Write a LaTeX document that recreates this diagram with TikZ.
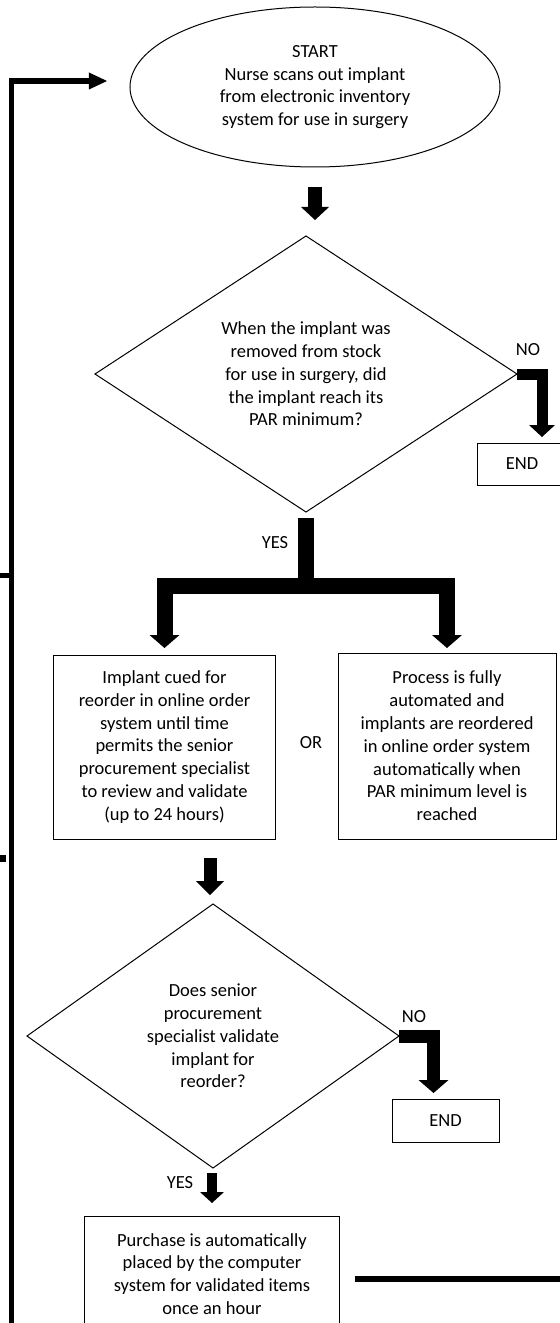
\documentclass[tikz,border=0pt]{standalone}
\usepackage{fontspec}
\setmainfont{Carlito}
\usetikzlibrary{shapes.geometric,arrows.meta,calc}
\tikzset{
  box/.style={draw, line width=1bp, rectangle, align=center, inner sep=0pt, outer sep=0pt},
  dec/.style={draw, line width=1bp, diamond, align=center, inner sep=0pt, outer sep=0pt},
  term/.style={draw, line width=1bp, ellipse, align=center, inner sep=0pt, outer sep=0pt},
  txt/.style={align=center, inner sep=0pt, outer sep=0pt},
  conn/.style={line width=5.5bp, line join=miter},
  blk/.style={line width=#1, line join=miter}
}
\begin{document}
\begin{tikzpicture}[x=1bp,y=-1bp,font=\fontsize{18.5bp}{22.8bp}\selectfont]
\useasboundingbox (0,0) rectangle (560,1323);
\clip (0,0) rectangle (560,1323);

% nodes
\node[term, minimum width=370bp, minimum height=160bp] (start) at (315,87) {START\\Nurse scans out implant\\from electronic inventory\\system for use in surgery};
\node[dec, minimum width=422bp, minimum height=276bp] (d1) at (306,374) {When the implant was\\removed from stock\\for use in surgery, did\\the implant reach its\\PAR minimum?};
\node[box, minimum width=90bp, minimum height=42bp] (end1) at (522,464) {END};
\node[box, minimum width=221bp, minimum height=184bp] (box1) at (164.5,747) {Implant cued for\\reorder in online order\\system until time\\permits the senior\\procurement specialist\\to review and validate\\(up to 24 hours)};
\node[box, minimum width=218bp, minimum height=186bp] (box2) at (447,746) {Process is fully\\automated and\\implants are reordered\\in online order system\\automatically when\\PAR minimum level is\\reached};
\node[txt] (or) at (311,743) {OR};
\node[dec, minimum width=372bp, minimum height=264bp] (d2) at (213,1036) {Does senior\\procurement\\specialist validate\\implant for\\reorder?};
\node[box, minimum width=107bp, minimum height=43bp] (end2) at (445.5,1120.5) {END};
\node[box, minimum width=254bp, minimum height=116bp] (box3) at (212,1274) {Purchase is automatically\\placed by the computer\\system for validated items\\once an hour};

% labels
\node[txt] (no1) at (528,350) {NO};
\node[txt] (yes1) at (275,543) {YES};
\node[txt] (no2) at (414,1017) {NO};
\node[txt] (yes2) at (180,1183) {YES};

% block arrows
\draw[blk=14bp, -{Triangle[length=13bp,width=28bp,line width=0pt]}, shorten <=20bp, shorten >=16bp]
  (start.south) -- (start.south |- d1.north);
\draw[blk=11bp, -{Triangle[length=12bp,width=26bp,line width=0pt]}, shorten >=6bp]
  (d1.east) -| ([xshift=20bp]end1.north);
\coordinate (j1) at (306,585.5);
\draw[blk=16bp, shorten <=6bp] (d1.south) -- (j1);
\draw[blk=16bp, -{Triangle[length=13bp,width=30bp,line width=0pt]}, shorten >=7bp] (j1) -| (box1.north);
\draw[blk=16bp, -{Triangle[length=13bp,width=30bp,line width=0pt]}, shorten >=5bp] (j1) -| (box2.north);
\coordinate (a4t) at ([xshift=-3bp]d2.north);
\draw[blk=13bp, -{Triangle[length=14bp,width=28bp,line width=0pt]}, shorten <=19bp, shorten >=9bp]
  (a4t |- box1.south) -- (a4t);
\draw[blk=13bp, -{Triangle[length=13bp,width=30bp,line width=0pt]}, shorten >=6bp]
  (d2.east) -| ([xshift=-12bp]end2.north);
\coordinate (a6t) at (box3.north);
\draw[blk=10bp, -{Triangle[length=11bp,width=24bp,line width=0pt]}, shorten <=5bp, shorten >=13bp]
  (a6t |- d2.south) -- (a6t);

% loop-back connector and cut-off line pieces
\coordinate (lp0) at (11.3,1340);
\coordinate (lpe) at ([xshift=-23bp,yshift=6bp]start.west);
\draw[conn, -{Triangle[length=18bp,width=17bp,line width=0pt]}] (lp0) |- (lpe);
\coordinate (bl0) at (355,1279);
\coordinate (bl1) at (575,1279);
\draw[conn] (bl0) -- (bl1);
\coordinate (s1a) at (-5,575.5);
\coordinate (s1b) at (9,575.5);
\draw[conn] (s1a) -- (s1b);
\coordinate (s2a) at (-5,858.5);
\coordinate (s2b) at (5.7,858.5);
\draw[conn, line width=7bp] (s2a) -- (s2b);
\end{tikzpicture}
\end{document}
